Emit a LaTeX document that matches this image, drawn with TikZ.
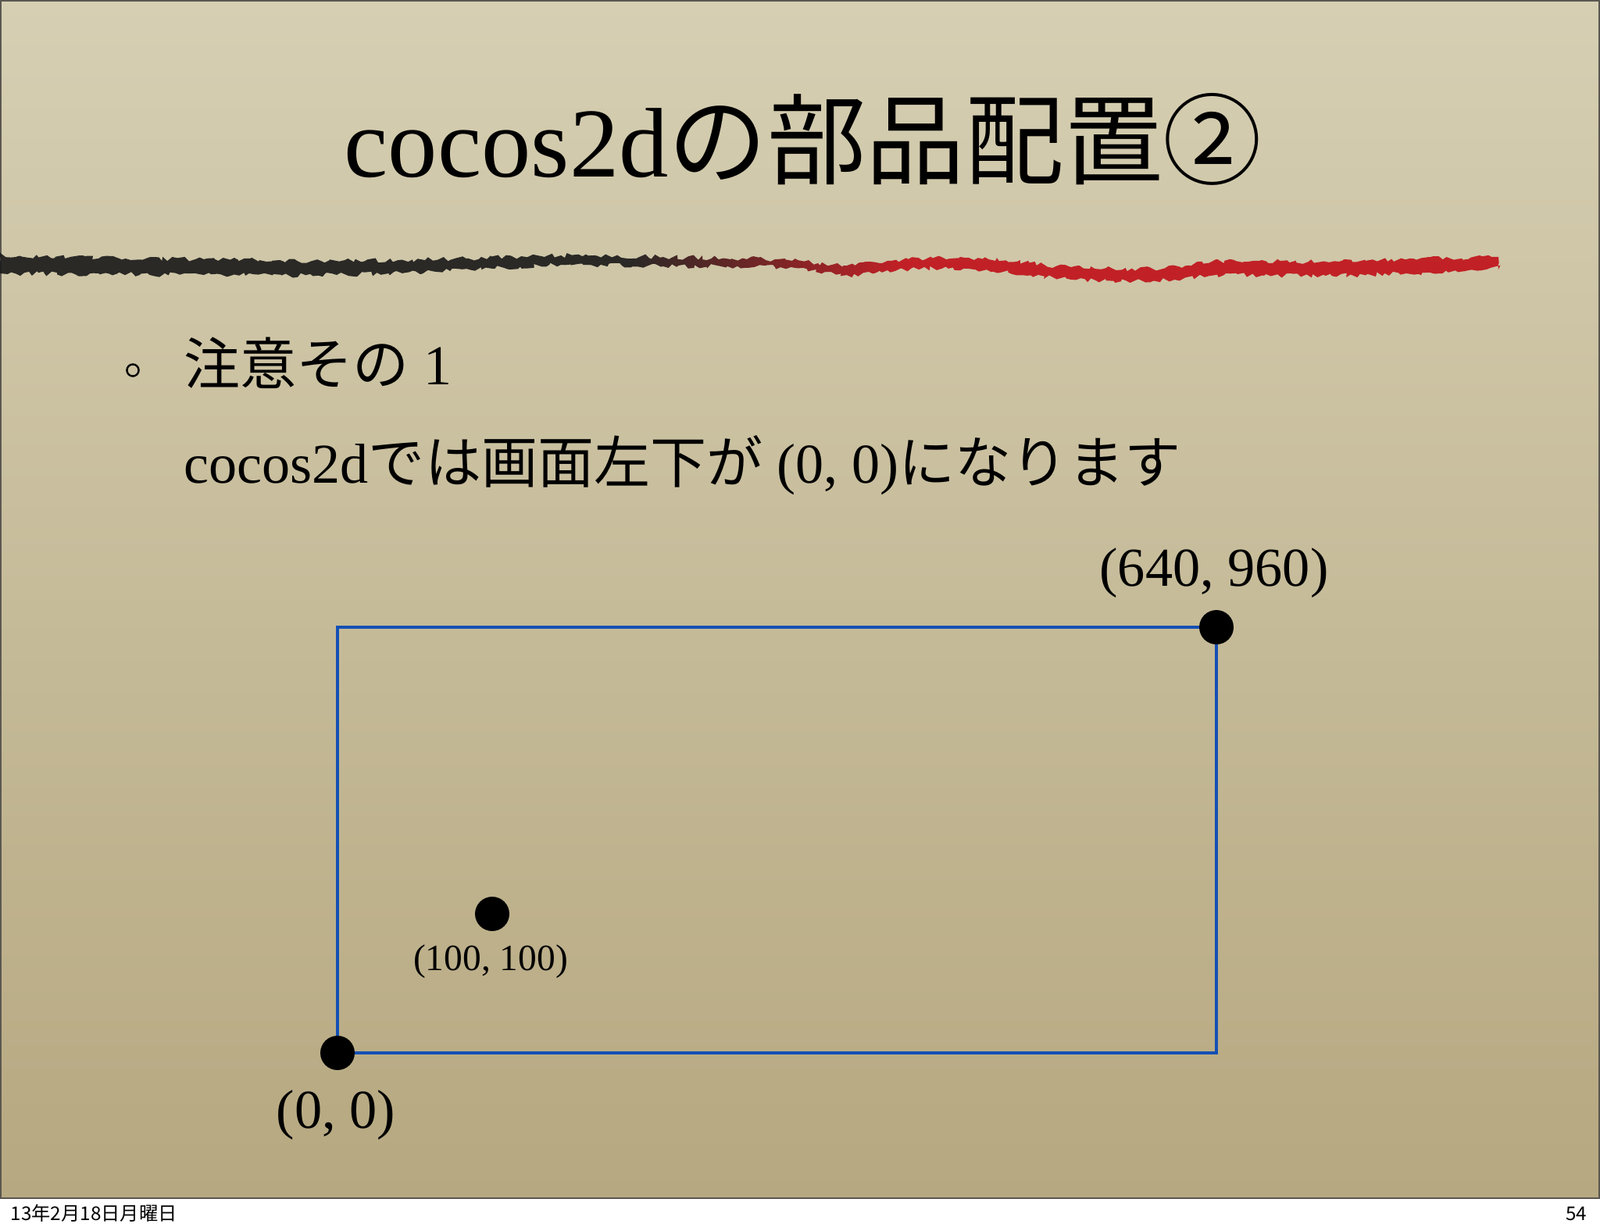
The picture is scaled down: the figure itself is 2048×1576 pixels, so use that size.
\documentclass[tikz,border=0pt]{standalone}
\usepackage{fontspec}
\setmainfont{Liberation Serif}
\newfontfamily\jpfont{Noto Sans CJK JP}
\usetikzlibrary{positioning}
\usetikzlibrary{decorations.pathmorphing}
\definecolor{papertop}{HTML}{D6CFB3}
\definecolor{paperbottom}{HTML}{B6A880}
\definecolor{slideframe}{HTML}{5B5750}
\definecolor{screenblue}{HTML}{1450B4}
\definecolor{crayonblack}{HTML}{1C1C1C}
\definecolor{crayonred}{HTML}{C0141C}
\pgfdeclarehorizontalshading{crayon}{100bp}{color(0bp)=(crayonblack); color(46bp)=(crayonblack); color(55bp)=(crayonred); color(100bp)=(crayonred)}

\begin{document}
\begin{tikzpicture}[x=0.01cm,y=-0.01cm,
    dot/.style={circle,fill=black,inner sep=0pt,minimum size=12.5pt},
    screenline/.style={draw=screenblue,line width=1.1pt},
    coordlabel/.style={anchor=base,inner sep=0pt,font=\fontsize{20}{24}\selectfont},
    bodytext/.style={anchor=base west,inner sep=0pt,font=\fontsize{20.5}{24}\selectfont}]
    \useasboundingbox (0,0) rectangle (2048,1576);
    \fill[white] (0,0) rectangle (2048,1576);
    \shade[top color=papertop,bottom color=paperbottom] (0,0) rectangle (2048,1534);
    \draw[slideframe,line width=0.8pt] (1,1) rectangle (2047,1534);
    % crayon stroke under the title
    \shade[shading=crayon,opacity=0.92,decorate,decoration={random steps,segment length=1.5pt,amplitude=0.9pt}]
        plot[smooth] coordinates {(0,328) (261,332) (431,334) (600,331) (718,327) (849,329) (992,332) (1084,340) (1136,334) (1240,330) (1371,342) (1475,344) (1567,334) (1697,335) (1800,332) (1918,329)}
        -- plot[smooth] coordinates {(1918,345) (1800,350) (1697,353) (1567,352) (1475,360) (1371,358) (1240,344) (1136,346) (1084,352) (992,342) (849,341) (718,339) (600,345) (431,352) (261,352) (0,350)}
        -- cycle;
    \node[anchor=base,inner sep=0pt,font=\fontsize{36}{40}\selectfont] (title) at (1028,226) {cocos2d{\jpfont の部品配置②}};
    \node[circle,draw,line width=0.7pt,inner sep=0pt,minimum size=4.3pt] (bullet) at (170,474) {};
    \node[bodytext] (point) at (235,492) {{\jpfont 注意その} 1};
    \node[bodytext] (note) at (235,618) {cocos2d{\jpfont では画面左下が} (0, 0){\jpfont になります}};
    \coordinate (origin) at (432,1348);
    \coordinate (topright) at (1557,803);
    \draw[screenline] (origin) rectangle (topright);
    \node[dot] (origindot) at (origin) {};
    \node[dot] (toprightdot) at (topright) {};
    \node[dot] (spritedot) at (630,1170) {};
    \node[coordlabel] (originlabel) at (430,1444) {(0, 0)};
    \node[coordlabel] (toprightlabel) at (1554,750) {(640, 960)};
    \node[coordlabel,font=\fontsize{13.5}{16}\selectfont] (spritelabel) at (628,1242) {(100, 100)};
    \node[anchor=base west,inner sep=0pt,font=\jpfont\fontsize{6.9}{8}\selectfont] (date) at (13,1562) {13年2月18日月曜日};
    \node[anchor=base east,inner sep=0pt,font=\jpfont\fontsize{6.9}{8}\selectfont] (page) at (2032,1562) {54};
\end{tikzpicture}
\end{document}
